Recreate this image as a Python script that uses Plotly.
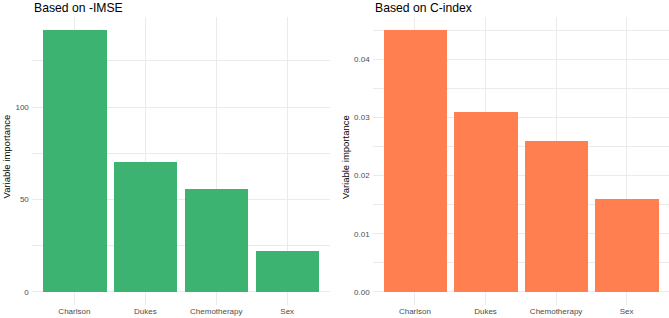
import plotly.graph_objects as go

categories = ["Charlson", "Dukes", "Chemotherapy", "Sex"]
imse_values = [141.6, 70.5, 55.6, 22.3]
cindex_values = [0.045, 0.031, 0.026, 0.016]
left_ticks = [0, 50, 100]
right_ticks = [0.00, 0.01, 0.02, 0.03, 0.04]

W, H = 669, 318
FONT = "Liberation Sans"
GRID = "#EBEBEB"
TICKC = "#4D4D4D"

fig = go.Figure()
fig.add_trace(go.Bar(x=categories, y=imse_values, marker=dict(color="#3CB371", line=dict(width=0)),
                     width=0.9, xaxis="x", yaxis="y", showlegend=False))
fig.add_trace(go.Bar(x=categories, y=cindex_values, marker=dict(color="#FF7F50", line=dict(width=0)),
                     width=0.9, xaxis="x2", yaxis="y2", showlegend=False))

ydom = [(318 - 305) / H, (318 - 17) / H]
ldom = [31.8 / W, 329.8 / W]
rdom = [372.6 / W, 669 / W]

lmax = max(imse_values)
rmax = max(cindex_values)

xcommon = dict(showgrid=True, gridcolor=GRID, gridwidth=1, zeroline=False, showline=False,
               ticks="", tickfont=dict(size=8, color=TICKC, family=FONT), range=[-0.6, 3.6])
ycommon = dict(showgrid=True, gridcolor=GRID, gridwidth=1, zeroline=False, showline=False,
               ticks="", tickfont=dict(size=8, color=TICKC, family=FONT), domain=ydom,
               ticklabelstandoff=2)

fig.update_layout(
    width=W, height=H,
    margin=dict(l=0, r=0, t=0, b=0),
    paper_bgcolor="white", plot_bgcolor="white",
    bargap=0,
    font=dict(family=FONT),
    xaxis=dict(domain=ldom, anchor="y", **xcommon),
    xaxis2=dict(domain=rdom, anchor="y2", **xcommon),
    yaxis=dict(anchor="x", range=[-0.05 * lmax, 1.05 * lmax], tickvals=left_ticks,
               ticktext=[str(v) for v in left_ticks],
               minor=dict(dtick=25, tick0=0, showgrid=True, gridcolor=GRID, gridwidth=0.5), **ycommon),
    yaxis2=dict(anchor="x2", range=[-0.05 * rmax, 1.05 * rmax], tickvals=right_ticks,
                ticktext=[f"{v:.2f}" for v in right_ticks],
                minor=dict(dtick=0.005, tick0=0, showgrid=True, gridcolor=GRID, gridwidth=0.5), **ycommon),
    annotations=[
        dict(text="Based on -IMSE", x=31.7 / W, y=1.0, xref="paper", yref="paper", xanchor="left",
             yanchor="top", yshift=1, showarrow=False, font=dict(size=12.2, color="black", family=FONT)),
        dict(text="Based on C-index", x=373 / W, y=1.0, xref="paper", yref="paper", xanchor="left",
             yanchor="top", yshift=1, showarrow=False, font=dict(size=12.2, color="black", family=FONT)),
        dict(text="Variable importance", x=5.5 / W, y=(318 - 157) / H, xref="paper", yref="paper",
             textangle=-90, showarrow=False, xanchor="center", yanchor="middle",
             font=dict(size=9.5, color="black", family=FONT)),
        dict(text="Variable importance", x=345 / W, y=(318 - 157) / H, xref="paper", yref="paper",
             textangle=-90, showarrow=False, xanchor="center", yanchor="middle",
             font=dict(size=9.5, color="black", family=FONT)),
    ],
)

fig.write_html("out.html")
